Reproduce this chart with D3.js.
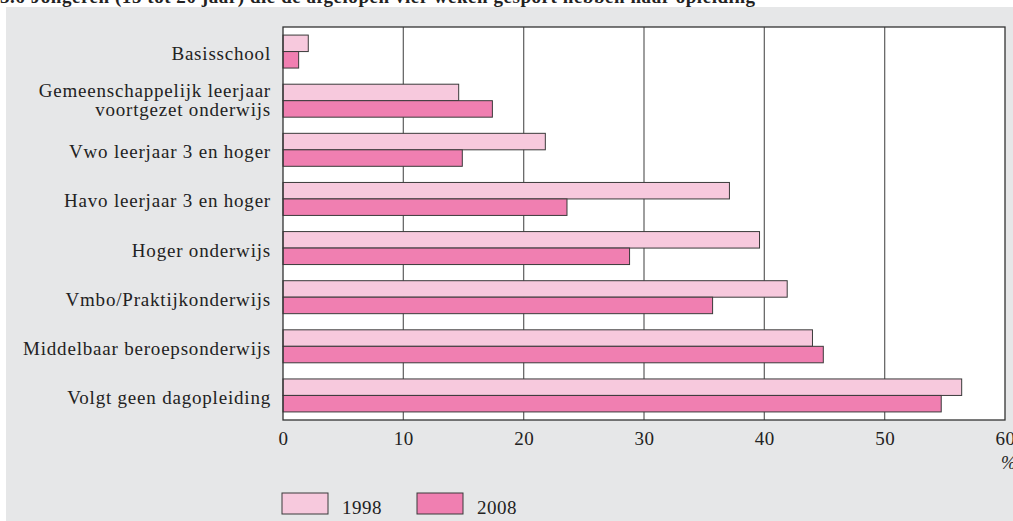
<!DOCTYPE html>
<html><head><meta charset="utf-8">
<script src="https://cdn.jsdelivr.net/npm/d3@7"></script>
<style>html,body{margin:0;padding:0;background:#fff;}svg{display:block;}</style>
</head><body>
<svg id="chart" width="1013" height="521"></svg>
<script>
const categories = [
  ["Basisschool"],
  ["Gemeenschappelijk leerjaar", "voortgezet onderwijs"],
  ["Vwo leerjaar 3 en hoger"],
  ["Havo leerjaar 3 en hoger"],
  ["Hoger onderwijs"],
  ["Vmbo/Praktijkonderwijs"],
  ["Middelbaar beroepsonderwijs"],
  ["Volgt geen dagopleiding"]
];
const series = ["1998", "2008"];
const values1998 = [2.1, 14.6, 21.8, 37.1, 39.6, 41.9, 44.0, 56.4];
const values2008 = [1.3, 17.4, 14.9, 23.6, 28.8, 35.7, 44.9, 54.7];
const xTicks = [0, 10, 20, 30, 40, 50, 60];
const title = "3.6 Jongeren (15 tot 20 jaar) die de afgelopen vier weken gesport hebben naar opleiding";
const unitLabel = "%";

const colors = {"1998": "#f7c9dd", "2008": "#f07fb1"};
const font = "'Liberation Serif', 'Times New Roman', serif";

const svg = d3.select("#chart");
// gray panel
svg.append("rect").attr("x", 6).attr("y", 7).attr("width", 1013 - 6).attr("height", 521 - 7).attr("fill", "#e6e7e8");
// title (cut off at top, as in the source)
svg.append("text").attr("x", 0).attr("y", 2.5)
  .attr("font-family", font).attr("font-weight", "bold").attr("font-size", 19).attr("letter-spacing", 0.55).attr("fill", "#222")
  .text(title);

const L = 283, R = 1005, T = 27, B = 420;
const x = d3.scaleLinear().domain([0, 60]).range([L, R]);
const y = d3.scaleBand().domain(d3.range(categories.length)).range([T, B]).paddingInner(0).paddingOuter(0);
const sub = d3.scaleBand().domain(series).range([0, y.bandwidth()]).paddingInner(0).paddingOuter(0.49);

svg.append("rect").attr("x", L).attr("y", T).attr("width", R - L).attr("height", B - T).attr("fill", "#fff");

// gridlines
svg.append("g").selectAll("line").data(xTicks.filter(d => d > 0 && d < 60)).join("line")
  .attr("x1", d => x(d)).attr("x2", d => x(d)).attr("y1", T).attr("y2", B)
  .attr("stroke", "#6a6a6a").attr("stroke-width", 1.3);

const data = categories.map((c, i) => ({i, vals: [{s: "1998", v: values1998[i]}, {s: "2008", v: values2008[i]}]}));
const g = svg.append("g");
g.selectAll("g.cat").data(data).join("g").attr("class", "cat")
  .attr("transform", d => `translate(0,${y(d.i)})`)
  .selectAll("rect").data(d => d.vals).join("rect")
  .attr("x", x(0)).attr("y", d => sub(d.s)).attr("width", d => x(d.v) - x(0)).attr("height", sub.bandwidth())
  .attr("fill", d => colors[d.s]).attr("stroke", "#3a3a3a").attr("stroke-width", 1);

// plot border
svg.append("rect").attr("x", L).attr("y", T).attr("width", R - L).attr("height", B - T)
  .attr("fill", "none").attr("stroke", "#333").attr("stroke-width", 1.3);

// category labels
const lab = svg.append("g").attr("font-family", font).attr("font-size", 19).attr("letter-spacing", 0.8)
  .attr("fill", "#222").attr("text-anchor", "end");
categories.forEach((lines, i) => {
  const cy = y(i) + y.bandwidth() / 2;
  const n = lines.length;
  const t = lab.append("text");
  lines.forEach((ln, k) => {
    t.append("tspan").attr("x", 271).attr("y", cy + 8.5 + (k - (n - 1) / 2) * 19 - (n > 1 ? 2.5 : 0)).text(ln);
  });
});

// x axis tick labels
const axis = d3.axisBottom(x).tickValues(xTicks).tickSize(0).tickPadding(0).tickFormat(d3.format("d"));
const ax = svg.append("g").attr("transform", `translate(0,${B + 14})`).call(axis);
ax.select(".domain").remove();
ax.selectAll("text").attr("font-family", font).attr("font-size", 19).attr("letter-spacing", 0.5)
  .attr("fill", "#222").attr("dy", "0.6em").attr("y", 0);
svg.append("text").attr("x", 1001).attr("y", 469).attr("font-family", font).attr("font-style", "italic")
  .attr("font-size", 18).attr("fill", "#222").attr("text-anchor", "start").text(unitLabel);

// legend
const leg = svg.append("g");
const legX = [282, 417];
series.forEach((s, k) => {
  leg.append("rect").attr("x", legX[k]).attr("y", 493).attr("width", 46).attr("height", 21)
    .attr("fill", colors[s]).attr("stroke", "#3a3a3a").attr("stroke-width", 1);
  leg.append("text").attr("x", legX[k] + 60).attr("y", 514).attr("font-family", font).attr("font-size", 19)
    .attr("letter-spacing", 0.5).attr("fill", "#222").text(s);
});
</script>
</body></html>
